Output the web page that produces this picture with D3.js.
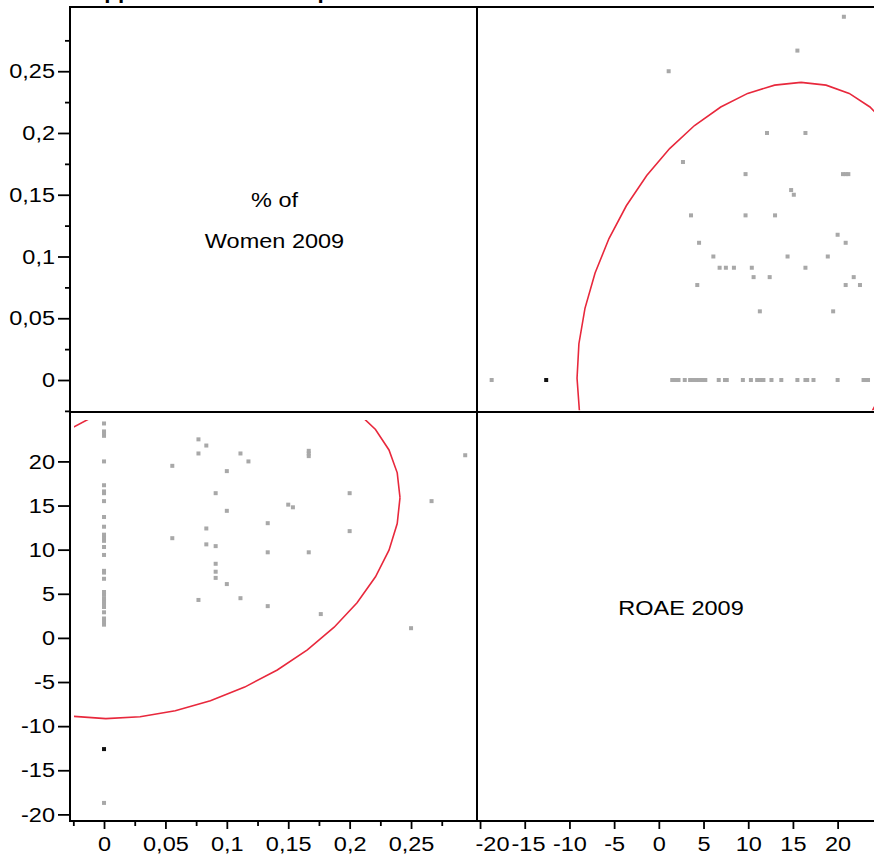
<!DOCTYPE html>
<html>
<head>
<meta charset="utf-8">
<script src="https://cdn.jsdelivr.net/npm/d3@7"></script>
<style>
  html, body { margin: 0; padding: 0; background: #fff; }
  svg { display: block; }
  text { font-family: "Liberation Sans", Arial, Helvetica, sans-serif; }
</style>
</head>
<body>
<svg id="chart" width="874" height="867"></svg>
<script>
// ---- data -------------------------------------------------------------
const titleText = "Appendix 6.6: Scatterplot matrix of % of Women and ROAE 2009";
const womenLabel = ["% of", "Women 2009"];
const roaeLabel = ["ROAE 2009"];

// share of women on the board (2009) and return on average equity (2009, %)
const women = [
  0, 0, 0, 0, 0, 0, 0, 0, 0, 0, 0, 0, 0, 0, 0, 0,
  0, 0, 0, 0, 0, 0, 0, 0, 0, 0, 0, 0, 0, 0,
  0.0556, 0.0556,
  0.0769, 0.0769, 0.0769,
  0.0833, 0.0833, 0.0833,
  0.0909, 0.0909, 0.0909, 0.0909, 0.0909,
  0.1, 0.1, 0.1,
  0.1111, 0.1111,
  0.1176,
  0.1333, 0.1333, 0.1333,
  0.15, 0.1538,
  0.1667, 0.1667, 0.1667, 0.1667,
  0.1765,
  0.2, 0.2,
  0.25,
  0.2667,
  0.2941
];
const roae = [
  -18.7, 1.5, 1.9, 2.2, 2.9, 3.5, 3.9, 4.2, 4.5, 4.9, 5.2, 6.7, 7.4, 7.6, 9.4, 10.3,
  11.0, 11.4, 11.7, 12.6, 13.7, 15.5, 16.4, 16.6, 17.3, 20.0, 22.9, 23.2, 23.4, 24.3,
  11.3, 19.5,
  4.3, 20.9, 22.5,
  10.6, 12.4, 21.8,
  6.8, 7.5, 8.4, 10.4, 16.4,
  6.1, 14.4, 18.9,
  4.5, 20.9,
  20.0,
  3.6, 9.7, 13.0,
  15.1, 14.8,
  9.7, 20.6, 20.9, 21.2,
  2.7,
  12.1, 16.4,
  1.1,
  15.5,
  20.7
];
// selected case shown in black
const selectedWomen = [0];
const selectedRoae = [-12.6];

// bivariate ellipse: centre, semi-extents and correlation (women, ROAE)
const ellipseCenter = [0.058, 10.12];
const ellipseExtent = [0.183, 19.27];
const ellipseCorrelation = 0.3;
const ellipseSegments = 40;
// the ellipse is only traced inside this data window
const curveWomenMin = -0.0245;
const curveRoaeMax = 24.7;

const womenTicks = [0, 0.05, 0.1, 0.15, 0.2, 0.25];
const womenTickLabels = ["0", "0,05", "0,1", "0,15", "0,2", "0,25"];
const womenMinorTicks = [-0.025, 0.025, 0.075, 0.125, 0.175, 0.225, 0.275];
const roaeTicks = [-20, -15, -10, -5, 0, 5, 10, 15, 20];
const roaeTickLabels = ["-20", "-15", "-10", "-5", "0", "5", "10", "15", "20"];

// ---- layout -----------------------------------------------------------
const L = 70, M = 477, R = 885, T = 7, H = 412, B = 821;
const FS = 21, SX = 1.12;
const pointColor = "#a8a8a8", curveColor = "#e8283c";

const svg = d3.select("#chart");
const defs = svg.append("defs");

const wX = d3.scaleLinear().domain([-0.0277, 0.3037]).range([L, M]);
const wY = d3.scaleLinear().domain([-0.0259, 0.302]).range([H, T]);
const rX = d3.scaleLinear().domain([-20.34, 25.3]).range([M, R]);
const rY = d3.scaleLinear().domain([-20.75, 25.6]).range([B, H]);

// title (sits above the plotting frame)
svg.append("text")
  .attr("transform", `translate(88,-1) scale(1.07,1)`)
  .attr("font-size", 21).attr("font-weight", "bold")
  .text(titleText);

const pts = d3.range(women.length).map(i => ({ w: women[i], r: roae[i] }));
const sel = d3.range(selectedWomen.length).map(i => ({ w: selectedWomen[i], r: selectedRoae[i] }));

// ellipse outline sampled as a polyline
const delta = Math.acos(ellipseCorrelation);
const ell = d3.range(ellipseSegments + 1).map(k => {
  const t = 2 * Math.PI * k / ellipseSegments;
  return {
    w: ellipseCenter[0] + ellipseExtent[0] * Math.cos(t),
    r: ellipseCenter[1] + ellipseExtent[1] * Math.cos(t + delta)
  };
});

function clipRect(id, x0, y0, x1, y1) {
  defs.append("clipPath").attr("id", id)
    .append("rect")
    .attr("x", Math.min(x0, x1)).attr("y", Math.min(y0, y1))
    .attr("width", Math.abs(x1 - x0)).attr("height", Math.abs(y1 - y0));
  return `url(#${id})`;
}

const sq = 4;
function drawPanel(name, box, curveBox, fx, fy) {
  const g = svg.append("g").attr("clip-path", clipRect("pts" + name, ...box));
  g.selectAll("rect.pt").data(pts).join("rect")
    .attr("class", "pt")
    .attr("x", d => fx(d) - sq / 2).attr("y", d => fy(d) - sq / 2)
    .attr("width", sq).attr("height", sq)
    .attr("fill", pointColor);
  g.selectAll("rect.sel").data(sel).join("rect")
    .attr("class", "sel")
    .attr("x", d => fx(d) - sq / 2).attr("y", d => fy(d) - sq / 2)
    .attr("width", sq).attr("height", sq)
    .attr("fill", "#111");
  svg.append("g").attr("clip-path", clipRect("curve" + name, ...curveBox))
    .append("path")
    .datum(ell)
    .attr("d", d3.line().x(fx).y(fy))
    .attr("fill", "none")
    .attr("stroke", curveColor)
    .attr("stroke-width", 1.6);
}
// top-right: ROAE across, women up
drawPanel("TR", [M, T, R, H],
  [M, T, Math.min(R, rX(curveRoaeMax)), wY(curveWomenMin)],
  d => rX(d.r), d => wY(d.w));
// bottom-left: women across, ROAE up
drawPanel("BL", [L, H, M, B],
  [wX(curveWomenMin), rY(curveRoaeMax), M, B],
  d => wX(d.w), d => rY(d.r));

// ---- axes -------------------------------------------------------------
function styleAxis(g, leftSide) {
  g.select(".domain").remove();
  g.selectAll(".tick line").attr("stroke", "#000").attr("stroke-width", 1.8);
  g.selectAll(".tick text")
    .attr("font-size", FS)
    .attr("font-family", '"Liberation Sans", Arial, sans-serif')
    .attr("fill", "#000")
    .attr("transform", `scale(${SX},1)`);
  if (leftSide) g.selectAll(".tick text").attr("x", -15 / SX);
  else g.selectAll(".tick text").attr("y", 15);
}

// left axis, top row (women)
svg.append("g").attr("transform", `translate(${L},0)`)
  .call(d3.axisLeft(wY).tickValues(womenMinorTicks).tickSize(5).tickFormat(""))
  .call(g => styleAxis(g, true));
svg.append("g").attr("transform", `translate(${L},0)`)
  .call(d3.axisLeft(wY).tickValues(womenTicks).tickSize(12)
    .tickFormat((d, i) => womenTickLabels[i]))
  .call(g => styleAxis(g, true));

// left axis, bottom row (ROAE)
svg.append("g").attr("transform", `translate(${L},0)`)
  .call(d3.axisLeft(rY).tickValues(roaeTicks).tickSize(12)
    .tickFormat((d, i) => roaeTickLabels[i]))
  .call(g => styleAxis(g, true));

// bottom axis, left column (women)
svg.append("g").attr("transform", `translate(0,${B})`)
  .call(d3.axisBottom(wX).tickValues(womenMinorTicks).tickSize(5).tickFormat(""))
  .call(g => styleAxis(g, false));
svg.append("g").attr("transform", `translate(0,${B})`)
  .call(d3.axisBottom(wX).tickValues(womenTicks).tickSize(8)
    .tickFormat((d, i) => womenTickLabels[i]))
  .call(g => styleAxis(g, false));

// bottom axis, right column (ROAE); labels are nudged right so they stay
// clear of the column divider and of each other
const roaeAxis = svg.append("g").attr("transform", `translate(0,${B})`)
  .call(d3.axisBottom(rX).tickValues(roaeTicks).tickSize(8)
    .tickFormat((d, i) => roaeTickLabels[i]))
  .call(g => styleAxis(g, false));
let minLeft = M - 2;
roaeAxis.selectAll(".tick text").each(function (d) {
  const w = this.getComputedTextLength() * SX;
  const cx = rX(d);
  let left = cx - w / 2;
  let shift = 0;
  if (left < minLeft) { shift = minLeft - left; left = minLeft; }
  if (shift) d3.select(this).attr("x", shift / SX);
  minLeft = left + w + 2;
});

// ---- frame --------------------------------------------------------------
const frame = svg.append("g").attr("stroke", "#000").attr("stroke-width", 2).attr("fill", "none");
frame.append("rect").attr("x", L).attr("y", T).attr("width", R - L).attr("height", B - T);
frame.append("line").attr("x1", M).attr("x2", M).attr("y1", T).attr("y2", B);
frame.append("line").attr("x1", L).attr("x2", R).attr("y1", H).attr("y2", H);

// ---- variable names on the diagonal -------------------------------------
function diagLabel(lines, cx, baselines) {
  lines.forEach((s, i) => {
    svg.append("text")
      .attr("transform", `translate(${cx},${baselines[i]}) scale(${SX},1)`)
      .attr("text-anchor", "middle")
      .attr("font-size", FS)
      .attr("fill", "#000")
      .text(s);
  });
}
diagLabel(womenLabel, (L + M) / 2 + 1, [207, 248]);
diagLabel(roaeLabel, (M + R) / 2, [615]);
</script>
</body>
</html>
